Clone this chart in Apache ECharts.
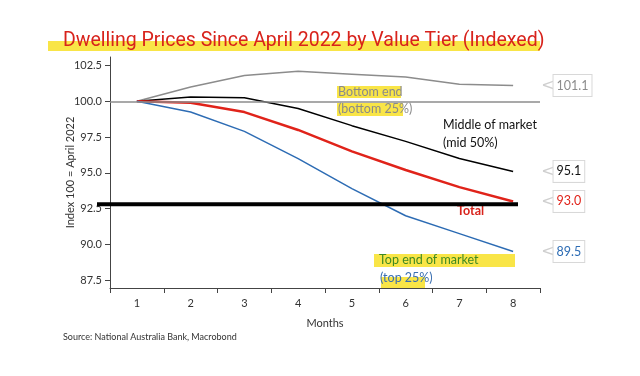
<!DOCTYPE html>
<html>
<head>
<meta charset="utf-8">
<script src="https://cdn.jsdelivr.net/npm/echarts@6/dist/echarts.min.js"></script>
<style>
  html, body { margin: 0; padding: 0; background: #fff; }
  #main { width: 640px; height: 376px; }
</style>
</head>
<body>
<div id="main"></div>
<script>
// 数据
const months = ["1", "2", "3", "4", "5", "6", "7", "8"];
const bottomEnd = [100, 101.0, 101.8, 102.1, 101.9, 101.7, 101.2, 101.1];
const middle = [100, 100.3, 100.25, 99.5, 98.3, 97.2, 96.0, 95.1];
const total = [100, 99.9, 99.25, 98.0, 96.5, 95.2, 94.0, 93.0];
const topEnd = [100, 99.25, 97.9, 96.0, 93.9, 92.0, 90.75, 89.5];
const yTicks = [87.5, 90, 92.5, 95, 97.5, 100, 102.5];
const totalRefLine = 92.8;

const font = "Lato";

function endLabel(color) {
  return {
    show: true,
    distance: 28,
    formatter: (p) => "{a|<}{b|" + p.value.toFixed(1) + "}",
    rich: {
      a: { color: "#cfcfcf", fontSize: 16, fontFamily: "DejaVu Sans", padding: [0, -1, 0, 0] },
      b: {
        color: color,
        fontSize: 12.5,
        fontFamily: font,
        backgroundColor: "#fff",
        borderColor: "#d8d8d8",
        borderWidth: 1,
        padding: [4, 3, 4, 3],
      },
    },
  };
}

const options = {
  animation: false,
  title: {
    text: "Dwelling Prices Since April 2022 by Value Tier (Indexed)",
    left: 58,
    top: 26,
    textStyle: { color: "#d8231c", fontSize: 19.5, fontWeight: "normal", fontFamily: "Roboto" },
  },
  grid: { left: 110, right: 100, top: 57, bottom: 88 },
  xAxis: {
    type: "category",
    data: months,
    boundaryGap: true,
    name: "Months",
    nameLocation: "middle",
    nameGap: 30,
    nameTextStyle: { color: "#333", fontSize: 11, fontFamily: font },
    axisLine: { lineStyle: { color: "#444" } },
    axisTick: { show: true, length: 5, lineStyle: { color: "#444" } },
    axisLabel: { color: "#333", fontSize: 11, fontFamily: font, margin: 10 },
  },
  yAxis: {
    type: "value",
    min: 86.95,
    max: 103.1,
    name: "Index 100 = April 2022",
    nameLocation: "middle",
    nameGap: 34,
    nameMoveOverlap: false,
    nameTextStyle: { color: "#333", fontSize: 11, fontFamily: font },
    axisLine: { show: true, lineStyle: { color: "#444" } },
    axisTick: { show: true, length: 5, customValues: yTicks, lineStyle: { color: "#444" } },
    axisLabel: {
      color: "#333",
      fontSize: 11,
      fontFamily: font,
      customValues: yTicks,
      formatter: (v) => v.toFixed(1),
    },
    splitLine: { show: false },
  },
  series: [
    {
      name: "Bottom end",
      type: "line",
      data: bottomEnd,
      symbol: "none",
      lineStyle: { color: "#8c8c8c", width: 1.5 },
      endLabel: endLabel("#8c8c8c"),
      markLine: {
        silent: true,
        symbol: "none",
        label: { show: false },
        lineStyle: { color: "#8c8c8c", width: 1.5, type: "solid" },
        data: [{ yAxis: 100 }],
      },
    },
    {
      name: "Middle of market",
      type: "line",
      data: middle,
      symbol: "none",
      lineStyle: { color: "#000", width: 1.5 },
      endLabel: endLabel("#111"),
    },
    {
      name: "Total",
      type: "line",
      data: total,
      symbol: "none",
      z: 3,
      lineStyle: { color: "#e0231a", width: 2.5 },
      endLabel: endLabel("#e0231a"),
    },
    {
      name: "Top end of market",
      type: "line",
      data: topEnd,
      symbol: "none",
      lineStyle: { color: "#2d6cb4", width: 1.5 },
      endLabel: endLabel("#2d6cb4"),
    },
  ],
};

const chart = echarts.init(document.getElementById("main"));
chart.setOption(options);

// 注释和高亮
const yRef = chart.convertToPixel({ yAxisIndex: 0 }, totalRefLine);
const txt = (x, y, text, color, extra) => ({
  type: "text",
  x: x,
  y: y,
  z: 10,
  style: Object.assign(
    { text: text, fill: color, fontSize: 12.5, fontFamily: font, verticalAlign: "middle" },
    extra || {}
  ),
});
const hl = (x, y, w, h) => ({
  type: "rect",
  shape: { x: x, y: y, width: w, height: h },
  z: 5,
  style: { fill: "#f9e547" },
});

chart.setOption({
  graphic: [
    hl(48, 41, 492, 10),
    hl(337, 86, 64, 12),
    hl(337, 103, 66, 13),
    hl(374, 254, 141, 13),
    hl(381, 277, 44, 11),
    {
      type: "line",
      z: 20,
      shape: { x1: 97, y1: yRef, x2: 518, y2: yRef },
      style: { stroke: "#000", lineWidth: 4 },
    },
    txt(338, 92, "Bottom end", "#8a8a8a"),
    txt(338, 109, "(bottom 25%)", "#8a8a8a"),
    txt(443, 125, "Middle of market", "#111"),
    txt(443, 143, "(mid 50%)", "#111"),
    txt(457, 211, "Total", "#d8231c", { fontWeight: "bold" }),
    txt(379, 260, "Top end of market", "#3f8a22"),
    txt(380, 278, "(top 25%)", "#3a6fb0"),
    txt(63, 337, "Source: National Australia Bank, Macrobond", "#333", { fontSize: 9 }),
  ],
});

window.addEventListener("resize", () => {
  chart.resize();
});
</script>
</body>
</html>
